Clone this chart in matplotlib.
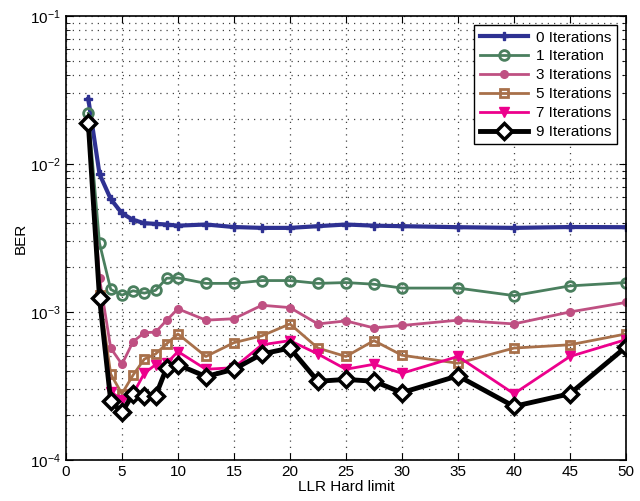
import matplotlib
matplotlib.use("Agg")
import matplotlib.pyplot as plt
from matplotlib.ticker import LogLocator, NullFormatter, MultipleLocator

plt.rcParams['font.family'] = ['Liberation Sans', 'DejaVu Sans']

x = [2, 3, 4, 5, 6, 7, 8, 9, 10, 12.5, 15, 17.5, 20, 22.5, 25, 27.5, 30, 35, 40, 45, 50]

ber0 = [0.0275, 0.00855, 0.0058, 0.00464, 0.00419, 0.00398, 0.00394, 0.0039, 0.00383, 0.0039, 0.00375,
        0.0037, 0.0037, 0.0038, 0.0039, 0.00383, 0.0038, 0.00374, 0.0037, 0.00375, 0.00374]
ber1 = [0.022, 0.00291, 0.00142, 0.0013, 0.00139, 0.00134, 0.0014, 0.00169, 0.0017, 0.00156, 0.00156,
        0.00163, 0.00163, 0.00156, 0.00158, 0.00154, 0.00145, 0.00145, 0.00129, 0.0015, 0.00158]
ber3 = [0.0193, 0.00169, 0.00057, 0.000443, 0.00063, 0.000725, 0.00073, 0.00088, 0.00105, 0.00088, 0.0009,
        0.00111, 0.00107, 0.00083, 0.00087, 0.00078, 0.00081, 0.00088, 0.00083, 0.001, 0.00116]
ber5 = [0.019, 0.0013, 0.00038, 0.00028, 0.000375, 0.00048, 0.00052, 0.00061, 0.00071, 0.0005, 0.00062,
        0.00069, 0.00083, 0.00057, 0.0005, 0.00064, 0.00051, 0.00045, 0.00057, 0.0006, 0.00071]
ber7 = [0.019, 0.0012, 0.00029, 0.000254, 0.00028, 0.000385, 0.00044, 0.00045, 0.00054, 0.00041, 0.00042,
        0.0006, 0.00064, 0.00052, 0.00041, 0.000443, 0.000385, 0.0005, 0.00028, 0.0005, 0.00065]
ber9 = [0.0188, 0.00124, 0.00025, 0.00021, 0.00028, 0.00027, 0.00027, 0.00042, 0.00044, 0.000366, 0.00041,
        0.00052, 0.00057, 0.00034, 0.00035, 0.00034, 0.000285, 0.00037, 0.00023, 0.00028, 0.00058]

labels = ['0 Iterations', '1 Iteration', '3 Iterations', '5 Iterations', '7 Iterations', '9 Iterations']

fig = plt.figure(figsize=(6.4, 5.01), dpi=100)
ax = fig.add_axes([0.103, 0.082, 0.875, 0.886])

ax.semilogy(x, ber0, color='#2e3192', lw=3, marker='P', ms=6, mfc='#2e3192', mec='#2e3192', label=labels[0])
ax.semilogy(x, ber1, color='#4a7f5e', lw=2, marker='o', ms=7, mfc='none', mew=2, mec='#4a7f5e', label=labels[1])
ax.semilogy(x, ber3, color='#bf5082', lw=2, marker='o', ms=5.5, mfc='#bf5082', mec='#bf5082', label=labels[2])
ax.semilogy(x, ber5, color='#a8704a', lw=2, marker='s', ms=6, mfc='none', mew=2, mec='#a8704a', label=labels[3])
ax.semilogy(x, ber7, color='#ec008c', lw=2, marker='v', ms=7.5, mfc='#ec008c', mec='#ec008c', label=labels[4])
ax.semilogy(x, ber9, color='black', lw=3.5, marker='D', ms=8, mfc='white', mew=2.5, mec='black', label=labels[5])

ax.set_xlim(0, 50)
ax.set_ylim(1e-4, 1e-1)
ax.xaxis.set_major_locator(MultipleLocator(5))
ax.yaxis.set_major_locator(LogLocator(base=10, numticks=10))
ax.yaxis.set_minor_locator(LogLocator(base=10, subs=range(2, 10), numticks=20))
ax.yaxis.set_minor_formatter(NullFormatter())
ax.grid(True, which='major', linestyle=(0, (1, 4)), color='#444444', lw=0.9)
ax.grid(True, which='minor', axis='y', linestyle=(0, (1, 4)), color='#444444', lw=0.9)
ax.tick_params(which='both', direction='in', top=True, right=True, labelsize=11)
ax.tick_params(which='major', length=5)
ax.tick_params(which='minor', length=3)
for s in ax.spines.values():
    s.set_linewidth(1.2)
ax.set_xlabel('LLR Hard limit', fontsize=11, labelpad=1)
ax.set_ylabel('BER', fontsize=11, labelpad=2)

leg = ax.legend(loc='upper right', fontsize=11, fancybox=False, framealpha=1, edgecolor='black',
                handlelength=3.2, borderpad=0.35, labelspacing=0.32, handletextpad=0.5,
                borderaxespad=0.6)
leg.get_frame().set_linewidth(1.0)

fig.savefig('out.png', dpi=100)
